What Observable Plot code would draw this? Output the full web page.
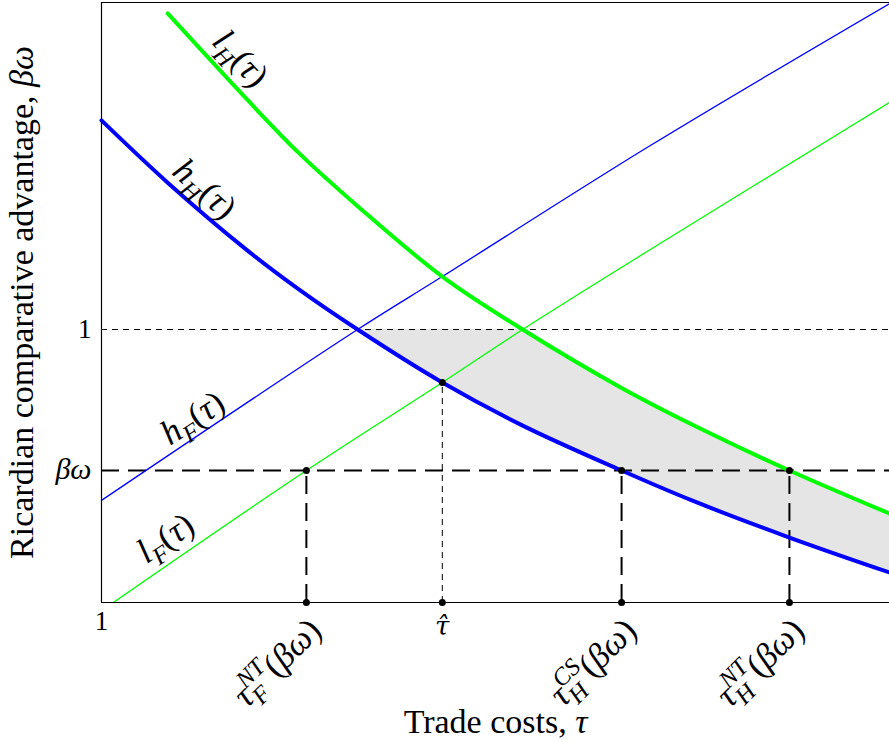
<!DOCTYPE html>
<html>
<head>
<meta charset="utf-8">
<script src="https://cdn.jsdelivr.net/npm/d3@7"></script>
<script src="https://cdn.jsdelivr.net/npm/@observablehq/plot@0.6"></script>
<style>
  html, body { margin: 0; padding: 0; background: white; }
  svg text { font-family: "Liberation Serif", serif; }
</style>
</head>
<body>
<script>
// ---------- data ----------
const tau = [1.0, 1.168, 1.37, 1.5, 1.65, 1.865, 2.069, 2.32, 2.5, 2.746, 3.0];
const hH  = [1.766, 1.538, 1.29, 1.148, 1.0, 0.806, 0.648, 0.4835, 0.373, 0.238, 0.110];
const lH  = [null, 2.158, 1.842, 1.648, 1.452, 1.194, 1.0, 0.786, 0.651, 0.4835, 0.326];

const hFTau = [1.0, 1.65, 1.865, 2.393, 3.0];
const hF    = [0.374, 1.0, 1.194, 1.674, 2.194];

const lFTau = [1.03, 1.52, 1.865, 2.069, 2.393, 3.0];
const lF    = [0, 0.4835, 0.806, 1.0, 1.293, 1.832];

const betaOmega = 0.4835;
const yOne = 1;
const yTop = 2.198;
const tauMin = 1, tauMax = 3;

const keyTau  = [1.52, 1.865, 2.32, 2.746];
const keyVal  = [betaOmega, 0.806, betaOmega, betaOmega];
const keyName = ["tauFNT", "tauHat", "tauHCS", "tauHNT"];
const keyDash = ["long", "short", "long", "long"];

const curveLabels   = ["lH", "hH", "hF", "lF"];
const curveLabelTau = [1.353, 1.262, 1.231, 1.162];
const curveLabelVal = [1.993, 1.515, 0.676, 0.236];
const curveLabelRot = [47, 42, -33, -34];

const xTitle = "Trade costs, τ";
const yTitle = "Ricardian comparative advantage, βω";

// ---------- tables ----------
const H = tau.map((t, i) => ({tau: t, hH: hH[i], lH: lH[i]}));
const HF = hFTau.map((t, i) => ({tau: t, v: hF[i]}));
const LF = lFTau.map((t, i) => ({tau: t, v: lF[i]}));
const K = keyTau.map((t, i) => ({tau: t, val: keyVal[i], name: keyName[i], dash: keyDash[i]}));
const CL = curveLabels.map((n, i) => ({name: n, tau: curveLabelTau[i], v: curveLabelVal[i], rot: curveLabelRot[i]}));

const curve = "catmull-rom";
const blue = "#0000ff", green = "#00ff00";

const chart = Plot.plot({
  width: 889, height: 742,
  marginLeft: 101, marginRight: 0, marginTop: 2, marginBottom: 140,
  x: {domain: [tauMin, tauMax]},
  y: {domain: [0, yTop]},
  style: {fontFamily: "'Liberation Serif', serif", fontSize: "25px", background: "white", color: "black", overflow: "visible"},
  marks: [
    // shaded region between hH and min(1, lH)
    Plot.areaY(H.filter(d => d.tau >= 1.65), {x: "tau", y1: "hH", y2: () => yOne, fill: "#e5e5e5", curve}),
    Plot.areaY(H.filter(d => d.lH != null), {x: "tau", y1: "lH", y2: () => yTop, fill: "white", curve}),
    // reference lines
    Plot.ruleY([yOne], {stroke: "black", strokeWidth: 1, strokeDasharray: "6,5"}),
    Plot.ruleY([betaOmega], {stroke: "black", strokeWidth: 2, strokeDasharray: "18,9"}),
    Plot.ruleX(K.filter(d => d.dash === "long"), {x: "tau", y1: () => 0, y2: "val", stroke: "black", strokeWidth: 2, strokeDasharray: "18,9"}),
    Plot.ruleX(K.filter(d => d.dash === "short"), {x: "tau", y1: () => 0, y2: "val", stroke: "black", strokeWidth: 1, strokeDasharray: "6,5"}),
    // curves
    Plot.line(HF, {x: "tau", y: "v", stroke: blue, strokeWidth: 1.3, curve}),
    Plot.line(LF, {x: "tau", y: "v", stroke: green, strokeWidth: 1.3, curve}),
    Plot.line(H, {x: "tau", y: "hH", stroke: blue, strokeWidth: 4, curve}),
    Plot.line(H.filter(d => d.lH != null), {x: "tau", y: "lH", stroke: green, strokeWidth: 4, curve}),
    // frame
    Plot.ruleX([tauMin], {stroke: "black", strokeWidth: 1.2}),
    Plot.ruleY([0, yTop], {stroke: "black", strokeWidth: 1.2}),
    // points
    Plot.dot(K, {x: "tau", y: "val", r: 3.5, fill: "black"}),
    Plot.dot(K, {x: "tau", y: () => 0, r: 3.5, fill: "black"}),
    // axes
    Plot.axisY({ticks: [betaOmega, yOne], tickFormat: d => d === yOne ? "1" : "βω", tickSize: 0, tickPadding: 10, fontSize: 27, label: null}),
    Plot.axisX({ticks: [tauMin], tickFormat: () => "1", tickSize: 0, tickPadding: 8, fontSize: 27, label: null}),
    Plot.axisX({ticks: [keyTau[1]], tickFormat: () => "τ̂", tickSize: 0, tickPadding: 14, fontSize: 28, label: null}),
    Plot.text(K.filter(d => d.name !== "tauHat"), {x: "tau", y: () => 0, text: "name", rotate: -45, textAnchor: "end", lineAnchor: "middle", dx: 9, dy: 22, fontSize: 35}),
    // curve labels
    Plot.text(CL, {x: "tau", y: "v", text: "name", rotate: "rot", textAnchor: "middle", lineAnchor: "middle", fontSize: 35}),
    // titles
    Plot.text([xTitle], {frameAnchor: "bottom", textAnchor: "middle", lineAnchor: "middle", dy: 120, fontSize: 34}),
    Plot.text([yTitle], {frameAnchor: "left", textAnchor: "middle", lineAnchor: "middle", rotate: -90, dx: -79, fontSize: 34})
  ]
});
document.body.appendChild(chart);

// ---------- math typesetting of labels ----------
function math(fs, parts) {
  let cur = 0, html = "";
  for (const [t, s] of parts) {
    let target = 0, size = fs, style = "italic", extra = "";
    if (s === "r") style = "normal";
    if (s === "sub") { target = 0.24 * fs; size = 0.7 * fs; }
    if (s === "sup" || s === "supback") { target = -0.42 * fs; size = 0.7 * fs; }
    if (s === "supback") extra = ' data-back="1"';
    const dy = target - cur;
    cur = target;
    html += `<tspan font-style="${style}" font-size="${size}px" dy="${dy}"${extra}>${t}</tspan>`;
  }
  return html;
}
const labelMap = {
  "lH": math(35, [["l","i"],["H","sub"],["(","r"],["τ","i"],[")","r"]]),
  "hH": math(35, [["h","i"],["H","sub"],["(","r"],["τ","i"],[")","r"]]),
  "hF": math(35, [["h","i"],["F","sub"],["(","r"],["τ","i"],[")","r"]]),
  "lF": math(35, [["l","i"],["F","sub"],["(","r"],["τ","i"],[")","r"]]),
  "tauFNT": math(35, [["τ","i"],["F","sub"],["NT","supback"],["(","r"],["βω","i"],[")","r"]]),
  "tauHCS": math(35, [["τ","i"],["H","sub"],["CS","supback"],["(","r"],["βω","i"],[")","r"]]),
  "tauHNT": math(35, [["τ","i"],["H","sub"],["NT","supback"],["(","r"],["βω","i"],[")","r"]]),
  "βω": math(30, [["βω","i"]]),
  [xTitle]: math(34, [["Trade costs, ","r"],["τ","i"]]),
  [yTitle]: math(34, [["Ricardian comparative advantage, ","r"],["βω","i"]])
};
d3.select(chart).selectAll("text").each(function() {
  const k = this.textContent;
  if (k === "τ̂") {
    this.setAttribute("style", "font-family: 'DejaVu Serif', serif; font-style: italic; font-size: 26px;");
  } else if (labelMap[k] !== undefined) this.innerHTML = labelMap[k];
});
d3.select(chart).selectAll("tspan[data-back]").each(function() {
  const prev = this.previousElementSibling;
  if (prev) this.setAttribute("dx", -prev.getComputedTextLength());
});
</script>
</body>
</html>
